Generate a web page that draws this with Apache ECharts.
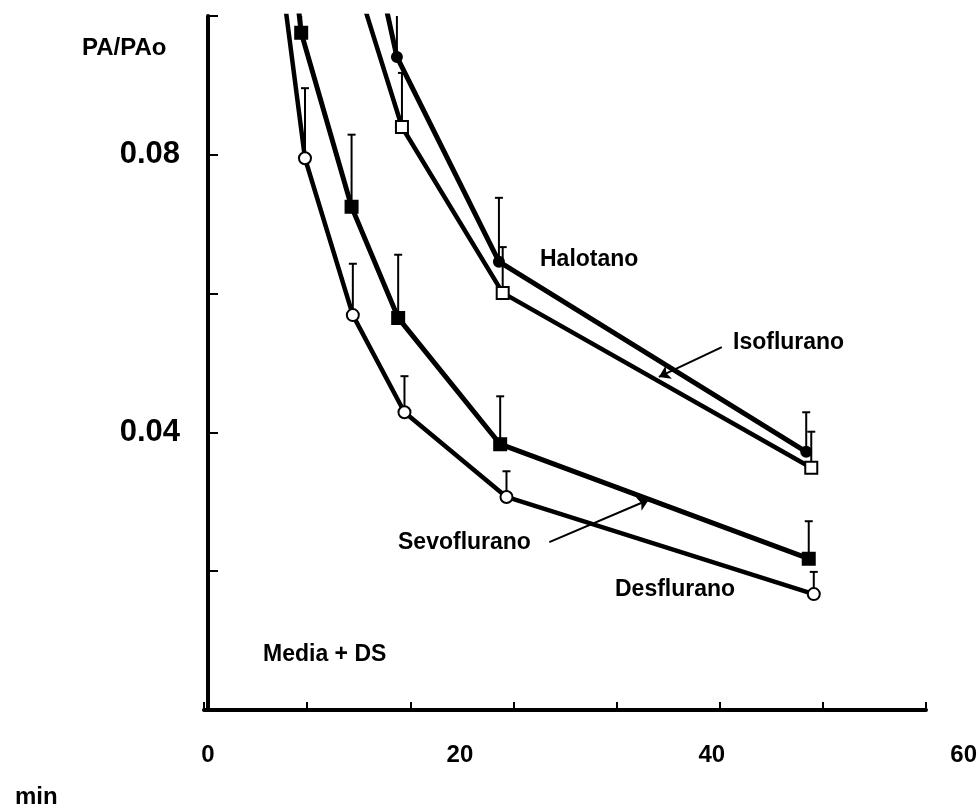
<!DOCTYPE html>
<html>
<head>
<meta charset="utf-8">
<script src="https://cdn.jsdelivr.net/npm/echarts@6/dist/echarts.min.js"></script>
<style>
  html, body { margin: 0; padding: 0; background: #fff; }
  #chart { width: 980px; height: 809px; }
</style>
</head>
<body>
<div id="chart"></div>
<script>
// time (min), PA/PAo, mean + SD top
const desTimes = [5.9, 7.7, 11.5, 15.6, 23.7, 48.1]
const desflurano = [0.1047, 0.0795, 0.0569, 0.0429, 0.0307, 0.0167]
const desSD = [null, 0.0896, 0.0643, 0.0481, 0.0344, 0.0199]

const sevoTimes = [5.9, 7.4, 11.4, 15.1, 23.2, 47.7]
const sevoflurano = [0.122, 0.0976, 0.0725, 0.0565, 0.0383, 0.0218]
const sevoSD = [null, 0.106, 0.0829, 0.0656, 0.0452, 0.0272]

const haloTimes = [11.5, 15.0, 23.1, 47.5]
const halotano = [0.123, 0.0941, 0.0646, 0.0372]
const haloSD = [null, 0.104, 0.0738, 0.0429]

const isoTimes = [11.5, 15.4, 23.4, 47.9]
const isoflurano = [0.1066, 0.084, 0.0601, 0.0349]
const isoSD = [null, 0.0918, 0.0667, 0.0401]

const yTickLabels = ['0.04', '0.08']
// arrows [from, to] in data units
const sevoArrow = [[27.1, 0.0242], [35.0, 0.0303]]
const isoArrow = [[40.8, 0.0523], [35.8, 0.048]]

const FONT = '"Liberation Sans", Arial, sans-serif'

const pairs = (xs, ys) => xs.map((x, i) => [x, ys[i]])
const errData = (xs, ys, tops) =>
  xs.map((x, i) => [x, ys[i], tops[i]]).filter(d => d[2] != null)

function lineSeries(name, xs, ys, symbol, size, filled, width) {
  return {
    name: name,
    type: 'line',
    data: pairs(xs, ys),
    symbol: symbol,
    symbolSize: size,
    showAllSymbol: true,
    clip: true,
    z: 3,
    lineStyle: { color: '#000', width: width },
    itemStyle: {
      color: filled ? '#000' : '#fff',
      borderColor: '#000',
      borderWidth: 2,
    },
  }
}

function errSeries(xs, ys, tops) {
  return {
    type: 'custom',
    clip: true,
    z: 2,
    data: errData(xs, ys, tops),
    renderItem: function (params, api) {
      const p = api.coord([api.value(0), api.value(1)])
      const t = api.coord([api.value(0), api.value(2)])
      const st = { stroke: '#000', lineWidth: 2 }
      return {
        type: 'group',
        children: [
          { type: 'line', shape: { x1: p[0], y1: p[1], x2: t[0], y2: t[1] }, style: st },
          { type: 'line', shape: { x1: t[0] - 4, y1: t[1], x2: t[0] + 4, y2: t[1] }, style: st },
        ],
      }
    },
  }
}

const myChart = echarts.init(document.getElementById('chart'))

const option = {
  backgroundColor: '#fff',
  animation: false,
  grid: [
    { left: 208, right: 15, top: 16, bottom: 99 },
    { left: 204, right: 54, top: 16, bottom: 99 },
  ],
  xAxis: [
    {
      type: 'value',
      gridIndex: 0,
      min: 0,
      max: 60,
      interval: 20,
      axisLine: { show: false },
      axisTick: { show: false },
      splitLine: { show: false },
      axisLabel: {
        margin: 33,
        color: '#000',
        fontFamily: FONT,
        fontWeight: 'bold',
        fontSize: 24,
      },
    },
    {
      type: 'value',
      gridIndex: 1,
      min: 0,
      max: 7,
      interval: 1,
      axisLine: { show: true, onZero: false, lineStyle: { color: '#000', width: 4 } },
      axisTick: { show: true, inside: true, length: 8, lineStyle: { color: '#000', width: 2 } },
      splitLine: { show: false },
      axisLabel: { show: false },
    },
  ],
  yAxis: [
    {
      type: 'value',
      gridIndex: 0,
      min: 0,
      max: 0.1,
      interval: 0.02,
      axisLine: { show: true, onZero: false, lineStyle: { color: '#000', width: 4 } },
      axisTick: { show: true, inside: true, length: 10, lineStyle: { color: '#000', width: 2 } },
      splitLine: { show: false },
      axisLabel: {
        margin: 28,
        color: '#000',
        fontFamily: FONT,
        fontWeight: 'bold',
        fontSize: 31,
        formatter: function (v) {
          const s = v.toFixed(2)
          return yTickLabels.indexOf(s) >= 0 ? s : ''
        },
      },
    },
    { type: 'value', gridIndex: 1, show: false, min: 0, max: 1 },
  ],
  graphic: [
    { type: 'text', style: { text: 'PA/PAo', x: 82, y: 48, verticalAlign: 'middle', font: 'bold 24px ' + FONT, fill: '#000' } },
    { type: 'text', style: { text: 'Halotano', x: 540, y: 260, verticalAlign: 'middle', font: 'bold 23px ' + FONT, fill: '#000' } },
    { type: 'text', style: { text: 'Isoflurano', x: 733, y: 343, verticalAlign: 'middle', font: 'bold 23px ' + FONT, fill: '#000' } },
    { type: 'text', style: { text: 'Sevoflurano', x: 398, y: 543, verticalAlign: 'middle', font: 'bold 23px ' + FONT, fill: '#000' } },
    { type: 'text', style: { text: 'Desflurano', x: 615, y: 590, verticalAlign: 'middle', font: 'bold 23px ' + FONT, fill: '#000' } },
    { type: 'text', style: { text: 'Media + DS', x: 263, y: 655, verticalAlign: 'middle', font: 'bold 23px ' + FONT, fill: '#000' } },
    { type: 'text', style: { text: 'min', x: 15, y: 797, verticalAlign: 'middle', font: 'bold 24px ' + FONT, fill: '#000' } },
  ],
  series: [
    errSeries(desTimes, desflurano, desSD),
    errSeries(sevoTimes, sevoflurano, sevoSD),
    errSeries(haloTimes, halotano, haloSD),
    errSeries(isoTimes, isoflurano, isoSD),
    lineSeries('Desflurano', desTimes, desflurano, 'circle', 12, false, 4.5),
    Object.assign(lineSeries('Sevoflurano', sevoTimes, sevoflurano, 'rect', 12, true, 5), {
      markLine: {
        silent: true,
        symbol: ['none', 'arrow'],
        symbolSize: 11,
        label: { show: false },
        lineStyle: { color: '#000', width: 2, type: 'solid' },
        data: [
          [{ coord: sevoArrow[0] }, { coord: sevoArrow[1] }],
          [{ coord: isoArrow[0] }, { coord: isoArrow[1] }],
        ],
      },
    }),
    lineSeries('Halotano', haloTimes, halotano, 'circle', 10, true, 5),
    lineSeries('Isoflurano', isoTimes, isoflurano, 'rect', 12, false, 4.5),
  ],
}

myChart.setOption(option)
</script>
</body>
</html>
